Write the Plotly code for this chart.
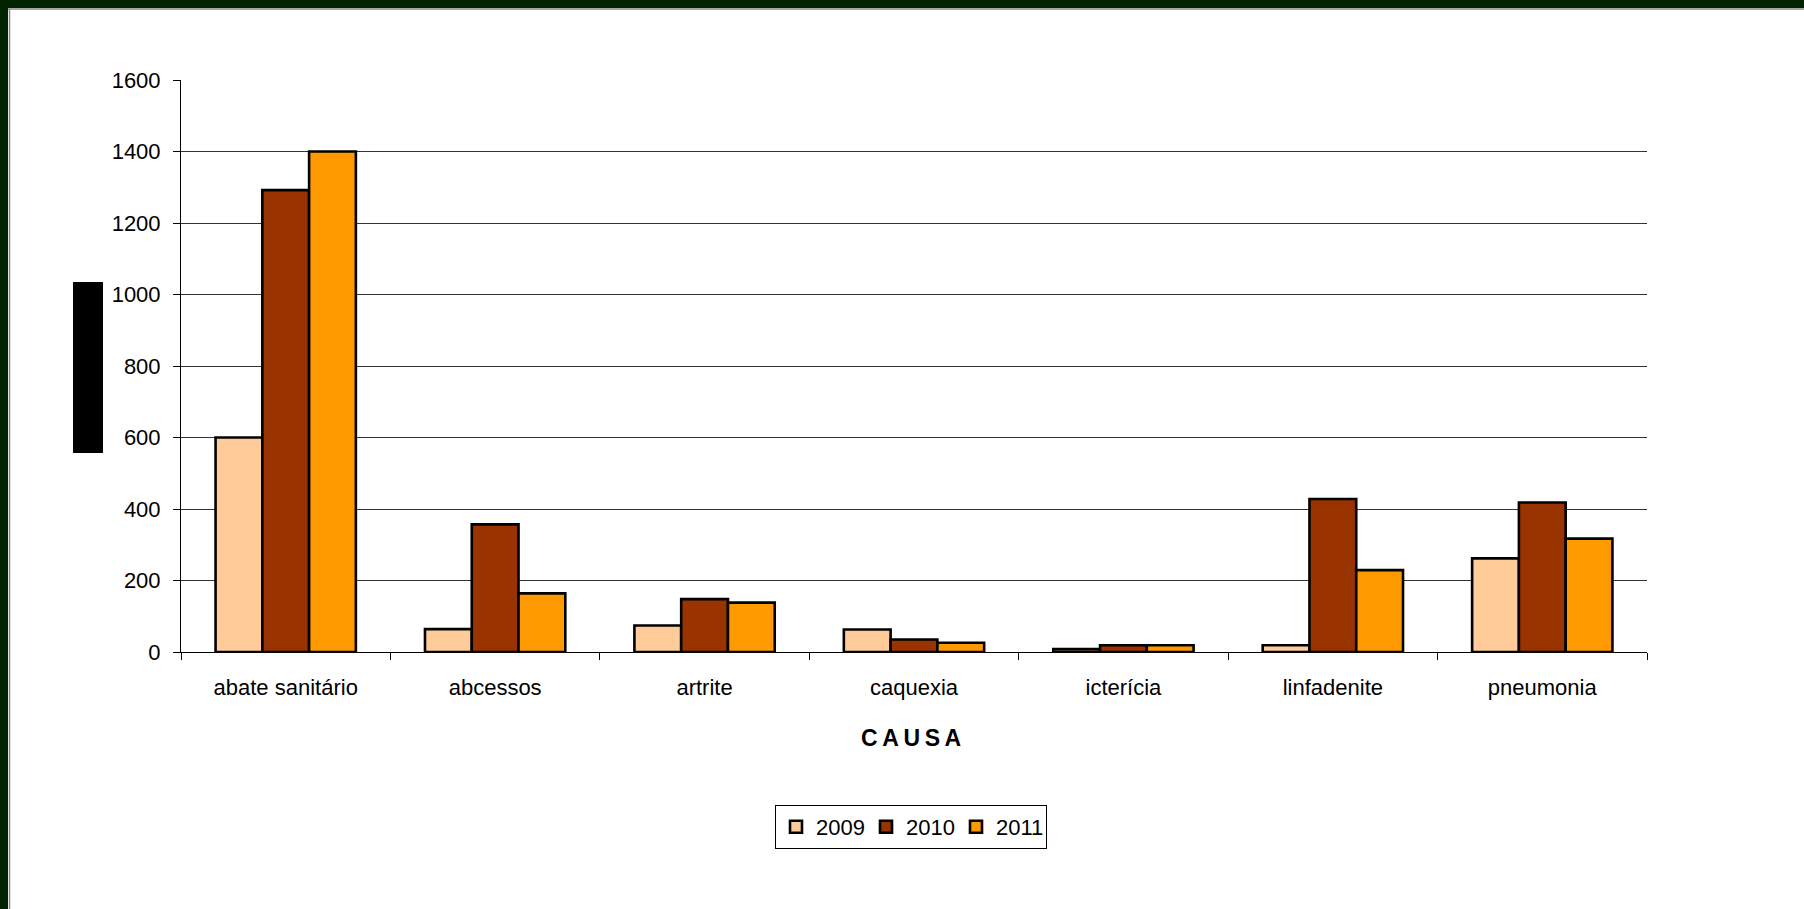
import plotly.graph_objects as go

categories = ["abate sanitário", "abcessos", "artrite", "caquexia", "icterícia", "linfadenite", "pneumonia"]
years = ["2009", "2010", "2011"]
values_2009 = [600, 64, 74, 63, 8, 19, 262]
values_2010 = [1292, 357, 148, 35, 19, 428, 418]
values_2011 = [1400, 164, 138, 26, 19, 229, 317]
colors = ["#FFCC99", "#993300", "#FF9900"]
y_ticks = [0, 200, 400, 600, 800, 1000, 1200, 1400, 1600]

FONT = "Liberation Sans, Arial, sans-serif"

W, H = 1804, 909
L, R, T, B = 181, 1647, 80, 652  # plot area in px

def px(x):
    return (x - L) / (R - L)

def py(y):
    return (B - y) / (B - T)

fig = go.Figure()
for name, vals, col in zip(years, [values_2009, values_2010, values_2011], colors):
    fig.add_trace(go.Bar(
        x=categories, y=vals, name=name,
        marker=dict(color=col, line=dict(color="black", width=2.6)),
    ))

fig.update_layout(
    width=W, height=H,
    margin=dict(l=L, r=W - R, t=T, b=H - B, pad=0),
    paper_bgcolor="white", plot_bgcolor="white",
    barmode="group", bargap=0.33, bargroupgap=0,
    font=dict(family=FONT, size=22, color="black"),
    showlegend=True,
    legend=dict(
        orientation="h", x=px(911), xanchor="center", y=py(805), yanchor="top",
        bordercolor="black", borderwidth=1, bgcolor="white",
        font=dict(family=FONT, size=22, color="black"),
        itemwidth=30, tracegroupgap=0,
        entrywidth=45, entrywidthmode="pixels",
    ),
    xaxis=dict(
        showline=True, linecolor="black", linewidth=1,
        ticks="outside", ticklen=7, tickcolor="black", tickson="boundaries",
        showgrid=False, tickfont=dict(family=FONT, size=22, color="black"),
        ticklabelstandoff=16,
    ),
    yaxis=dict(
        range=[0, 1600], tickvals=y_ticks,
        showline=True, linecolor="black", linewidth=1,
        ticks="outside", ticklen=7, tickcolor="black",
        showgrid=True, gridcolor="#333333", gridwidth=1,
        zeroline=False,
        tickfont=dict(family=FONT, size=22, color="black"),
        ticklabelstandoff=8,
    ),
    shapes=[
        # dark green frame, top and left
        dict(type="rect", xref="paper", yref="paper", x0=px(0), x1=px(W), y0=py(0), y1=py(8),
             fillcolor="#012201", line=dict(width=0), layer="above"),
        dict(type="rect", xref="paper", yref="paper", x0=px(0), x1=px(8), y0=py(0), y1=py(H),
             fillcolor="#012201", line=dict(width=0), layer="above"),
        dict(type="line", xref="paper", yref="paper", x0=px(8), x1=px(W), y0=py(9), y1=py(9),
             line=dict(color="#888888", width=1.5), layer="above"),
        dict(type="line", xref="paper", yref="paper", x0=px(9.5), x1=px(9.5), y0=py(9), y1=py(H),
             line=dict(color="#888888", width=1.5), layer="above"),
        # black box over the y-axis title area
        dict(type="rect", xref="paper", yref="paper", x0=px(73), x1=px(103), y0=py(282), y1=py(453),
             fillcolor="black", line=dict(width=0), layer="above"),
    ],
    annotations=[
        dict(text="C\u2009A\u2009U\u2009S\u2009A", xref="paper", yref="paper", x=px(911), y=py(737.5),
             xanchor="center", yanchor="middle", showarrow=False,
             font=dict(family=FONT, size=23, color="black", weight="bold")),
    ],
)

fig.write_html(
    "out.html",
    config={"displayModeBar": False},
    post_script=(
        "document.documentElement.style.margin='0';"
        "document.documentElement.style.background='white';"
        "document.documentElement.style.overflow='hidden';"
        "document.body.style.margin='0';"
        "document.body.style.background='white';"
        "document.body.style.overflow='hidden';"
    ),
)
